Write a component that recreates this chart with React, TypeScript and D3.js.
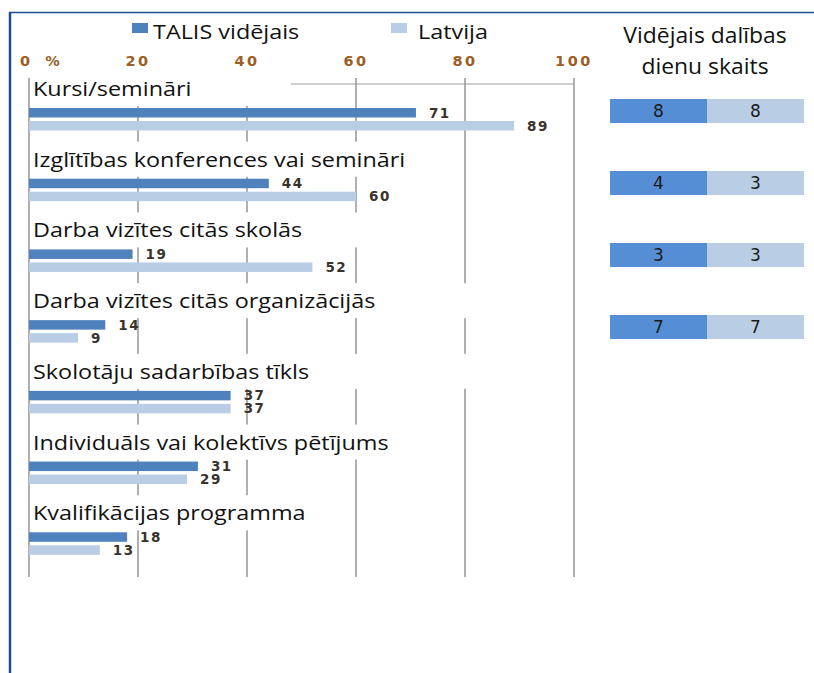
import React from "react";
import * as d3 from "d3";

const categories = [
  "Kursi/semināri",
  "Izglītības konferences vai semināri",
  "Darba vizītes citās skolās",
  "Darba vizītes citās organizācijās",
  "Skolotāju sadarbības tīkls",
  "Individuāls vai kolektīvs pētījums",
  "Kvalifikācijas programma",
];
const seriesNames = ["TALIS vidējais", "Latvija"];
const talisValues = [71, 44, 19, 14, 37, 31, 18];
const latvijaValues = [89, 60, 52, 9, 37, 29, 13];
const daysTalis = [8, 4, 3, 7];
const daysLatvija = [8, 3, 3, 7];
const tickValues = [0, 20, 40, 60, 80, 100];
const tableTitle = ["Vidējais dalības", "dienu skaits"];
// how far (in axis units) the white box behind each category label reaches
const labelMaskEnd = [48, 70, 70, 90, 90, 70, 50];

const W = 814;
const H = 673;
const DARK = "#4F81BD";
const LIGHT = "#B9CDE5";
const TDARK = "#558ED5";
const GRID = "#9c9c9c";
const BORDER = "#1F4E8C";
const SX = 1.17;
const LABEL_FONT = "'Open Sans', 'Noto Sans', sans-serif";
const NUM_FONT = "'DejaVu Sans', Verdana, sans-serif";

function StretchText({ x, y, size, anchor = "start", children, fill = "#111", weight = 400, font = LABEL_FONT, sx = SX }: any) {
  return (
    <text
      transform={`translate(${x},${y}) scale(${sx},1)`}
      fontSize={size}
      fontFamily={font}
      fontWeight={weight}
      textAnchor={anchor}
      fill={fill}
    >
      {children}
    </text>
  );
}

export default function App() {
  const x = d3.scaleLinear().domain([0, 100]).range([29, 574]);
  const band = d3.scaleBand<string>().domain(categories).range([81, 576]).paddingInner(0).paddingOuter(0);
  const tableRows = categories.slice(0, daysTalis.length);
  const rowScale = d3.scaleBand<string>().domain(tableRows).range([87, 87 + 72 * tableRows.length]);
  const colScale = d3.scaleBand<string>().domain(seriesNames).range([610, 804]);

  const barH = 9.5;
  const gridTop = 78;
  const gridBottom = 577;

  return (
    <svg width={W} height={H} style={{ position: "absolute", left: 0, top: 0, background: "#fff" }}>
      <rect x={0} y={0} width={W} height={H} fill="#fff" />
      {/* frame */}
      <line x1={9} x2={W} y1={12.5} y2={12.5} stroke={BORDER} strokeWidth={1.5} />
      <line x1={10} x2={10} y1={12} y2={H} stroke={BORDER} strokeWidth={2.5} />

      {/* legend */}
      <rect x={132} y={23} width={16} height={10} fill={DARK} />
      <StretchText x={153} y={39} size={20}>{seriesNames[0]}</StretchText>
      <rect x={391} y={23} width={16} height={10} fill={LIGHT} />
      <StretchText x={418} y={39} size={20}>{seriesNames[1]}</StretchText>

      {/* tick labels */}
      {tickValues.map((t) => (
        <text
          key={t}
          x={t === 0 ? 20 : x(t)}
          y={66}
          fontFamily={NUM_FONT}
          fontWeight={700}
          fontSize={14.5}
          letterSpacing={t === 0 ? 0 : 2.5}
          textAnchor={t === 0 ? "start" : "middle"}
          fill="#9C5E24"
          style={{ whiteSpace: "pre" }}
        >
          {t === 0 ? "0   %" : String(t)}
        </text>
      ))}

      {/* gridlines */}
      {tickValues.map((t) => (
        <line key={t} x1={x(t)} x2={x(t)} y1={gridTop} y2={gridBottom} stroke={GRID} strokeWidth={1.6} />
      ))}
      <line x1={290} x2={x(100)} y1={84} y2={84} stroke={GRID} strokeWidth={1} />

      {/* categories */}
      {categories.map((c, i) => {
        const y0 = band(c)!;
        return (
          <g key={c}>
            <rect x={x(0) + 1.5} y={y0 - 10} width={x(labelMaskEnd[i]) - x(0) - 1.5} height={35} fill="#fff" />
            <StretchText x={x(0) + 4} y={y0 + 15} size={20}>{c}</StretchText>
            <rect x={x(0)} y={y0 + 27} width={x(talisValues[i]) - x(0)} height={barH} fill={DARK} />
            <rect x={x(0)} y={y0 + 40} width={x(latvijaValues[i]) - x(0)} height={barH} fill={LIGHT} />
            <text x={x(talisValues[i]) + 13} y={y0 + 27 + barH / 2} dy="0.36em" fontFamily={NUM_FONT} fontWeight={700} fontSize={13.5} letterSpacing={1.5} fill="#3a332c">
              {talisValues[i]}
            </text>
            <text x={x(latvijaValues[i]) + 13} y={y0 + 40 + barH / 2} dy="0.36em" fontFamily={NUM_FONT} fontWeight={700} fontSize={13.5} letterSpacing={1.5} fill="#3a332c">
              {latvijaValues[i]}
            </text>
          </g>
        );
      })}

      {/* table */}
      <StretchText x={705} y={43} size={21} anchor="middle" sx={1.09}>{tableTitle[0]}</StretchText>
      <StretchText x={705} y={74} size={21} anchor="middle" sx={1.09}>{tableTitle[1]}</StretchText>
      {tableRows.map((r, i) => {
        const y0 = rowScale(r)! + 12;
        const vals = [daysTalis[i], daysLatvija[i]];
        return (
          <g key={r}>
            {seriesNames.map((s, j) => (
              <g key={s}>
                <rect x={colScale(s)!} y={y0} width={colScale.bandwidth()} height={24} fill={j === 0 ? TDARK : LIGHT} />
                <text x={colScale(s)! + colScale.bandwidth() / 2} y={y0 + 12} dy="0.36em" textAnchor="middle" fontFamily={NUM_FONT} fontSize={17} fill="#1a1a1a">
                  {vals[j]}
                </text>
              </g>
            ))}
          </g>
        );
      })}
    </svg>
  );
}
